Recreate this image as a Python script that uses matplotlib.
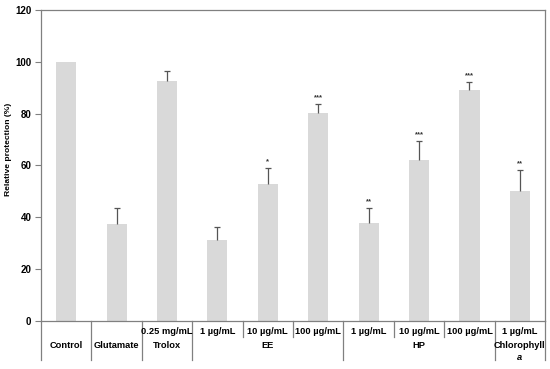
import matplotlib
matplotlib.use("Agg")
import matplotlib.pyplot as plt
import matplotlib.transforms as mtransforms

plt.rcParams['font.family'] = ['Liberation Sans', 'DejaVu Sans']
plt.rcParams['font.weight'] = 'bold'

sub_labels = ["", "", "0.25 mg/mL", "1 µg/mL", "10 µg/mL", "100 µg/mL",
              "1 µg/mL", "10 µg/mL", "100 µg/mL", "1 µg/mL"]
values = [100, 37.3, 92.7, 31.3, 53.0, 80.3, 37.7, 62.0, 89.0, 50.0]
errors = [0, 6.2, 3.6, 5.0, 6.0, 3.5, 6.0, 7.5, 3.3, 8.3]
stars = ["", "", "", "", "*", "***", "**", "***", "***", "**"]
# groups: (label, first index, last index)
groups = [("Control", 0, 0), ("Glutamate", 1, 1), ("Trolox", 2, 2),
          ("EE", 3, 5), ("HP", 6, 8), ("Chlorophyll\na", 9, 9)]
yticks = [0, 20, 40, 60, 80, 100, 120]

fig = plt.figure(figsize=(5.5, 3.69), dpi=100)
ax = fig.add_axes([0.0745, 0.130, 0.9165, 0.843])

x = list(range(len(values)))
ax.bar(x, values, width=0.4, color="#d9d9d9", zorder=2)
for xi, v, e, s in zip(x, values, errors, stars):
    if e > 0:
        ax.plot([xi, xi], [v, v + e], color="#555555", lw=0.9, zorder=3,
                solid_capstyle='butt')
        ax.plot([xi], [v + e], marker='_', markersize=5, mew=0.9,
                color="#555555", zorder=3)
    if s:
        ax.text(xi, v + e + 1.0, s, ha='center', va='bottom', fontsize=5.5,
                color="#333333")

ax.set_xlim(-0.5, len(values) - 0.5)
ax.set_ylim(0, 120)
ax.set_yticks(yticks)
ax.set_yticklabels([str(t) for t in yticks], fontsize=7, fontweight='bold')
ax.tick_params(axis='y', direction='out', length=4, width=0.8, color="#808080", pad=3)
ax.set_xticks([])
for sp in ax.spines.values():
    sp.set_color("#808080")
    sp.set_linewidth(0.9)
ax.set_ylabel("Relative protection (%)", fontsize=6.1, fontweight='bold')
ax.yaxis.set_label_coords(-0.058, 0.553)

trans = mtransforms.blended_transform_factory(ax.transData, ax.transAxes)
# row 1: sub labels
for xi, lab in zip(x, sub_labels):
    if lab:
        ax.text(xi, -0.035, lab, transform=trans, ha='center', va='center',
                fontsize=6.7, fontweight='bold')
# row 2: group labels and long separators
long_y = -0.125
for lab, a, b in groups:
    cx = (a + b) / 2
    if "\n" in lab:
        l1, l2 = lab.split("\n")
        ax.text(cx, -0.08, l1, transform=trans, ha='center', va='center',
                fontsize=6.7, fontweight='bold')
        ax.text(cx, -0.118, l2, transform=trans, ha='center', va='center',
                fontsize=6.7, fontweight='bold', style='italic')
    else:
        ax.text(cx, -0.08, lab, transform=trans, ha='center', va='center',
                fontsize=6.7, fontweight='bold')
    ax.plot([a - 0.5, a - 0.5], [0, long_y], transform=trans, color="#808080",
            lw=0.9, clip_on=False)
    for k in range(a + 1, b + 1):
        ax.plot([k - 0.5, k - 0.5], [0, -0.05], transform=trans, color="#808080",
                lw=0.9, clip_on=False)
ax.plot([len(values) - 0.5] * 2, [0, long_y], transform=trans, color="#808080",
        lw=0.9, clip_on=False)

fig.savefig("out.png", dpi=100)
